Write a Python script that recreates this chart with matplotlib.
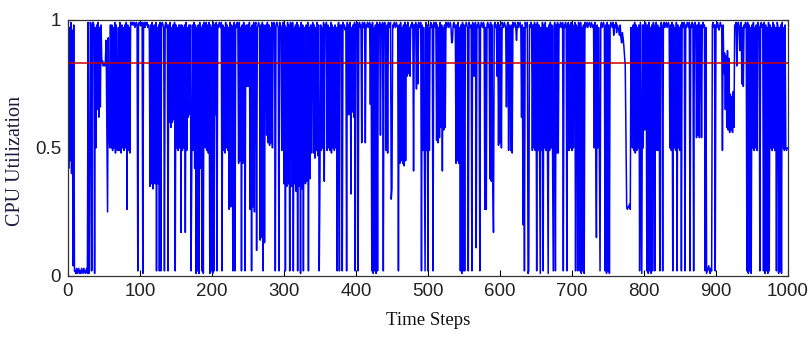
import matplotlib
matplotlib.use("Agg")
import matplotlib.pyplot as plt
import numpy as np

# CPU utilization per time step (10 values per row)
cpu = [
0.88,0.42,0.97,0.45,0.99,0.40,0.96,0.04,0.98,0.02,
0.02,0.01,0.03,0.01,0.02,0.03,0.01,0.02,0.01,0.03,
0.02,0.01,0.03,0.02,0.01,0.02,0.03,0.01,0.99,0.01,
0.02,0.99,0.98,0.02,0.99,0.99,0.98,0.01,0.97,0.50,
0.98,0.65,0.99,0.62,0.97,0.66,0.98,0.83,0.84,0.82,
0.83,0.82,0.84,0.92,0.60,0.25,0.93,0.55,0.50,0.98,
0.50,0.98,0.49,0.97,0.50,0.99,0.48,0.98,0.50,0.49,
0.97,0.49,0.99,0.50,0.48,0.98,0.50,0.97,0.49,0.98,
0.50,0.99,0.26,0.98,0.49,0.97,0.48,0.99,0.99,0.98,
0.99,0.98,0.99,0.97,0.98,0.99,0.98,0.02,0.98,0.99,
0.98,0.99,0.98,0.99,0.01,0.98,0.99,0.97,0.99,0.98,
0.99,0.97,0.98,0.96,0.35,0.98,0.36,0.99,0.34,0.97,
0.98,0.36,0.99,0.02,0.97,0.36,0.98,0.02,0.99,0.02,
0.98,0.99,0.98,0.97,0.02,0.98,0.99,0.97,0.98,0.02,
0.98,0.60,0.99,0.58,0.97,0.60,0.98,0.61,0.99,0.02,
0.98,0.50,0.97,0.49,0.98,0.50,0.98,0.17,0.98,0.49,
0.97,0.50,0.98,0.17,0.99,0.49,0.97,0.62,0.98,0.63,
0.98,0.02,0.45,0.98,0.49,0.99,0.42,0.98,0.01,0.97,
0.02,0.98,0.01,0.99,0.42,0.97,0.02,0.98,0.01,0.99,
0.98,0.50,0.99,0.49,0.98,0.48,0.99,0.01,0.98,0.02,
0.97,0.01,0.99,0.02,0.98,0.63,0.99,0.02,0.98,0.97,
0.99,0.98,0.97,0.99,0.02,0.98,0.49,0.97,0.48,0.99,
0.50,0.98,0.49,0.97,0.26,0.99,0.27,0.98,0.97,0.02,
0.98,0.99,0.02,0.98,0.97,0.99,0.98,0.44,0.99,0.45,
0.97,0.02,0.98,0.44,0.99,0.98,0.02,0.97,0.98,0.74,
0.98,0.74,0.99,0.26,0.97,0.02,0.98,0.27,0.99,0.25,
0.98,0.99,0.10,0.97,0.98,0.99,0.97,0.14,0.98,0.15,
0.99,0.02,0.98,0.13,0.97,0.98,0.55,0.99,0.52,0.98,
0.51,0.97,0.52,0.99,0.50,0.98,0.99,0.97,0.02,0.98,
0.99,0.98,0.97,0.02,0.99,0.98,0.97,0.49,0.98,0.99,
0.36,0.98,0.02,0.97,0.35,0.99,0.36,0.98,0.02,0.99,
0.98,0.35,0.99,0.02,0.97,0.36,0.98,0.33,0.99,0.02,
0.98,0.35,0.97,0.01,0.99,0.34,0.98,0.02,0.97,0.37,
0.36,0.98,0.37,0.99,0.02,0.97,0.38,0.98,0.48,0.97,
0.99,0.48,0.98,0.46,0.97,0.49,0.99,0.47,0.98,0.02,
0.38,0.98,0.49,0.97,0.50,0.99,0.37,0.98,0.97,0.99,
0.49,0.98,0.50,0.97,0.49,0.99,0.48,0.98,0.50,0.97,
0.49,0.98,0.50,0.97,0.02,0.98,0.99,0.02,0.98,0.97,
0.98,0.02,0.99,0.97,0.98,0.96,0.97,0.02,0.99,0.63,
0.98,0.63,0.99,0.32,0.97,0.64,0.98,0.62,0.99,0.02,
0.98,0.97,0.99,0.02,0.98,0.99,0.97,0.98,0.52,0.99,
0.98,0.97,0.99,0.52,0.98,0.97,0.99,0.98,0.97,0.99,
0.67,0.98,0.02,0.99,0.01,0.97,0.02,0.98,0.01,0.99,
0.02,0.98,0.97,0.99,0.55,0.98,0.97,0.99,0.02,0.98,
0.99,0.97,0.49,0.98,0.48,0.99,0.97,0.98,0.99,0.30,
0.34,0.98,0.97,0.99,0.98,0.97,0.99,0.98,0.97,0.02,
0.98,0.44,0.99,0.45,0.97,0.44,0.98,0.43,0.99,0.45,
0.98,0.78,0.99,0.79,0.97,0.78,0.98,0.97,0.99,0.98,
0.41,0.98,0.97,0.99,0.73,0.98,0.75,0.99,0.97,0.98,
0.99,0.02,0.98,0.49,0.97,0.48,0.02,0.99,0.49,0.98,
0.02,0.97,0.49,0.98,0.99,0.97,0.98,0.02,0.99,0.98,
0.97,0.99,0.53,0.98,0.52,0.97,0.54,0.99,0.58,0.98,
0.41,0.97,0.57,0.98,0.58,0.99,0.97,0.98,0.99,0.97,
0.98,0.99,0.97,0.91,0.92,0.98,0.99,0.97,0.98,0.44,
0.98,0.45,0.99,0.44,0.97,0.02,0.98,0.01,0.99,0.02,
0.98,0.02,0.97,0.99,0.98,0.97,0.02,0.99,0.98,0.97,
0.98,0.02,0.99,0.97,0.78,0.98,0.99,0.11,0.98,0.97,
0.99,0.98,0.02,0.97,0.99,0.98,0.97,0.99,0.98,0.26,
0.97,0.26,0.98,0.99,0.97,0.98,0.38,0.99,0.37,0.98,
0.38,0.17,0.98,0.99,0.97,0.98,0.78,0.99,0.51,0.98,
0.52,0.97,0.50,0.99,0.98,0.97,0.99,0.98,0.97,0.66,
0.98,0.99,0.49,0.98,0.97,0.49,0.98,0.48,0.99,0.97,
0.98,0.99,0.97,0.92,0.98,0.99,0.97,0.98,0.99,0.97,
0.62,0.98,0.20,0.97,0.02,0.99,0.98,0.97,0.99,0.01,
0.02,0.98,0.97,0.99,0.98,0.49,0.98,0.50,0.99,0.49,
0.98,0.02,0.99,0.49,0.98,0.50,0.01,0.97,0.49,0.99,
0.02,0.98,0.50,0.99,0.49,0.97,0.50,0.01,0.98,0.49,
0.99,0.50,0.98,0.49,0.02,0.97,0.99,0.02,0.98,0.48,
0.99,0.48,0.98,0.97,0.99,0.98,0.97,0.99,0.02,0.98,
0.97,0.99,0.98,0.02,0.97,0.99,0.49,0.98,0.50,0.99,
0.49,0.98,0.50,0.97,0.99,0.02,0.98,0.97,0.02,0.99,
0.98,0.02,0.99,0.01,0.97,0.02,0.98,0.01,0.99,0.97,
0.98,0.99,0.97,0.98,0.99,0.98,0.97,0.99,0.98,0.97,
0.98,0.50,0.99,0.49,0.15,0.98,0.50,0.97,0.49,0.02,
0.98,0.99,0.97,0.98,0.99,0.97,0.02,0.98,0.01,0.99,
0.02,0.98,0.01,0.97,0.99,0.98,0.97,0.99,0.94,0.98,
0.97,0.99,0.95,0.98,0.97,0.96,0.94,0.98,0.93,0.91,
0.95,0.93,0.90,0.86,0.82,0.55,0.27,0.26,0.27,0.27,
0.28,0.26,0.97,0.62,0.50,0.98,0.49,0.99,0.48,0.98,
0.49,0.97,0.50,0.98,0.02,0.99,0.49,0.01,0.98,0.50,
0.98,0.57,0.99,0.97,0.02,0.98,0.01,0.99,0.02,0.97,
0.01,0.98,0.02,0.99,0.97,0.02,0.98,0.99,0.49,0.98,
0.49,0.97,0.02,0.98,0.99,0.97,0.02,0.98,0.99,0.97,
0.98,0.99,0.97,0.98,0.99,0.97,0.50,0.98,0.49,0.99,
0.02,0.98,0.50,0.97,0.49,0.99,0.02,0.98,0.50,0.97,
0.49,0.98,0.02,0.99,0.97,0.98,0.99,0.02,0.98,0.97,
0.99,0.98,0.97,0.99,0.02,0.98,0.97,0.99,0.98,0.02,
0.98,0.99,0.97,0.54,0.98,0.55,0.99,0.54,0.97,0.98,
0.54,0.98,0.99,0.97,0.98,0.02,0.97,0.01,0.02,0.03,
0.04,0.02,0.01,0.03,0.02,0.98,0.99,0.97,0.98,0.02,
0.98,0.97,0.99,0.98,0.96,0.97,0.99,0.98,0.97,0.49,
0.98,0.79,0.87,0.65,0.86,0.58,0.88,0.57,0.85,0.56,
0.71,0.57,0.70,0.56,0.72,0.58,0.98,0.97,0.99,0.82,
0.98,0.99,0.97,0.88,0.98,0.99,0.75,0.97,0.74,0.98,
0.97,0.99,0.98,0.02,0.99,0.01,0.98,0.02,0.97,0.01,
0.98,0.50,0.99,0.49,0.97,0.50,0.98,0.49,0.99,0.98,
0.97,0.02,0.98,0.99,0.97,0.98,0.02,0.99,0.01,0.98,
0.02,0.97,0.01,0.99,0.02,0.98,0.50,0.97,0.49,0.99,
0.50,0.98,0.49,0.97,0.02,0.99,0.98,0.01,0.97,0.02,
0.98,0.01,0.99,0.50,0.97,0.49,0.98,0.50,0.49,0.50,
0.50,
]
threshold = 0.83
x_ticks = [0, 100, 200, 300, 400, 500, 600, 700, 800, 900, 1000]
y_ticks = [0, 0.5, 1]
y_tick_labels = ["0", "0.5", "1"]
x_label = "Time Steps"
y_label = "CPU Utilization"

steps = np.arange(len(cpu))

fig = plt.figure(figsize=(8.09, 3.42), dpi=100)
ax = fig.add_axes([0.084, 0.193, 0.890, 0.749])
ax.plot(steps, cpu, color="#0000ff", linewidth=1.1)
ax.axhline(threshold, color="#cc0000", linewidth=1.1)

ax.set_xlim(0, 1000)
ax.set_ylim(0, 1)
ax.set_xticks(x_ticks)
ax.set_yticks(y_ticks)
ax.set_yticklabels(y_tick_labels)
for lab in ax.get_xticklabels() + ax.get_yticklabels():
    lab.set_fontfamily(["Liberation Sans", "DejaVu Sans"])
    lab.set_fontsize(13.5)
    lab.set_color("#222222")
ax.tick_params(direction="in", length=4, width=0.8, top=True, right=True,
               labeltop=False, labelright=False, pad=5)
for s in ax.spines.values():
    s.set_linewidth(0.9)
    s.set_color("#333333")

ax.set_xlabel(x_label, family=["Liberation Serif", "DejaVu Serif"], fontsize=13.5,
              labelpad=9, color="#111111")
ax.set_ylabel(y_label, family=["Liberation Serif", "DejaVu Serif"], fontsize=14.5,
              color="#1a1a40")
ax.yaxis.set_label_coords(-0.06, 0.45)

fig.savefig("out.png", dpi=100)
